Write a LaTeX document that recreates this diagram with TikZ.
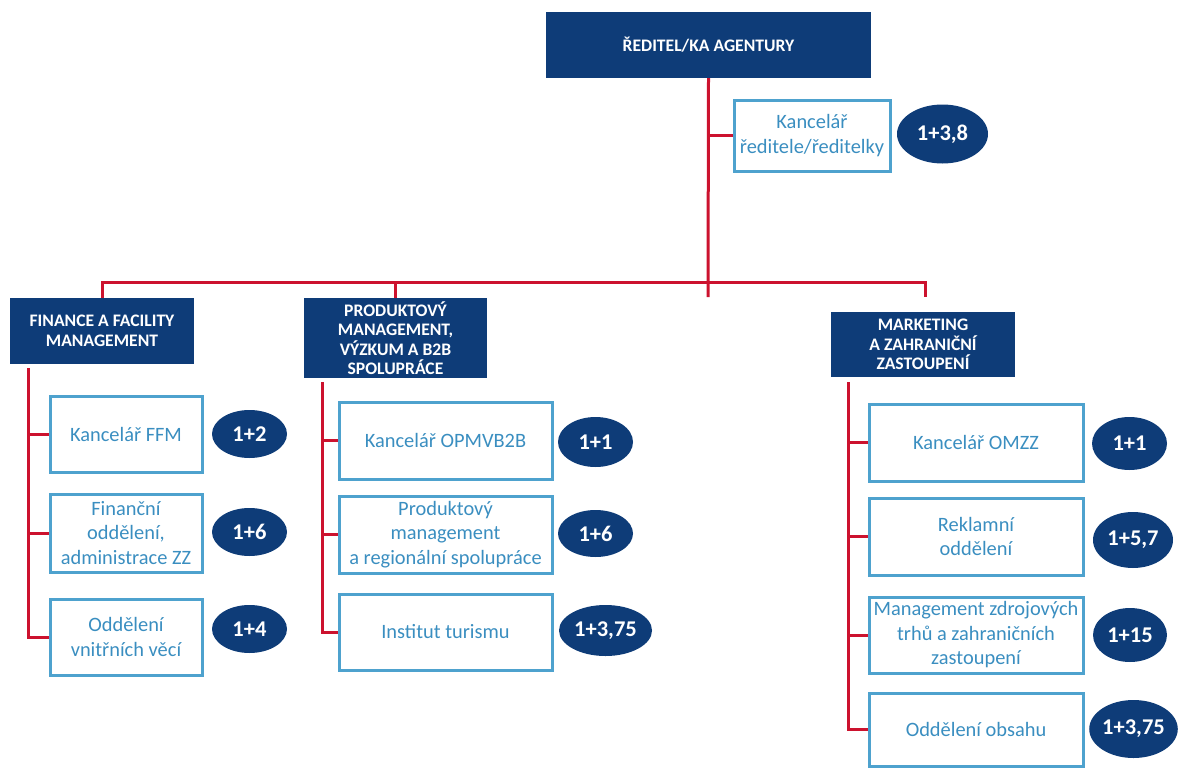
\documentclass[tikz,border=0pt]{standalone}
\usepackage{fontspec}
\setmainfont{Carlito}
\usetikzlibrary{shapes.geometric}
\definecolor{tmava}{RGB}{14,60,120}
\definecolor{svetla}{RGB}{78,162,206}
\definecolor{textmodra}{RGB}{58,142,192}
\definecolor{cervena}{RGB}{204,18,46}
\tikzset{
  hlava/.style={fill=tmava, text=white, align=center, inner sep=0pt,
    font=\bfseries\fontsize{17.6}{19.5}\selectfont},
  oddeleni/.style={draw=svetla, line width=3pt, text=textmodra, align=center,
    inner sep=0pt, font=\fontsize{20.4}{24.5}\selectfont},
  pocet/.style={ellipse, fill=tmava, text=white, inner sep=0pt,
    font=\bfseries\fontsize{22.5}{24}\selectfont},
  spoj/.style={draw=cervena, line width=3pt}
}
\begin{document}
\begin{tikzpicture}[x=1pt, y=-1pt, line join=miter]
				
				% Khung của bức tranh
				\useasboundingbox (0,0) rectangle (1183,768);
				
				% Ředitel/ka a kancelář
				\node[hlava, minimum width=325, minimum height=66] (reditel) at (708.5,45) {ŘEDITEL/KA AGENTURY};
				\node[oddeleni, minimum width=156, minimum height=71] (kr) at (812,135.5) {Kancelář\\ředitele/ředitelky};
				\node[pocet, minimum width=91, minimum height=59] (kr-n) at (942.5,134) {1+3,8};
				
				% Ba bộ phận
				\node[hlava, minimum width=184, minimum height=66] (ffm) at (102,331) {FINANCE A FACILITY\\MANAGEMENT};
				\node[hlava, minimum width=183, minimum height=80] (pmv) at (395.5,338) {PRODUKTOVÝ\\MANAGEMENT,\\VÝZKUM A B2B\\SPOLUPRÁCE};
				\node[hlava, minimum width=184, minimum height=65] (mzz) at (923,344.5) {MARKETING\\A ZAHRANIČNÍ\\ZASTOUPENÍ};
				
				% Cột bên trái
				\node[oddeleni, minimum width=152, minimum height=76] (f1) at (126,434) {Kancelář FFM};
				\node[oddeleni, minimum width=152, minimum height=78] (f2) at (126,533) {Finanční\\oddělení,\\administrace ZZ};
				\node[oddeleni, minimum width=152, minimum height=76] (f3) at (126,637) {Oddělení\\vnitřních věcí};
				\node[pocet, minimum width=75, minimum height=48] (f1-n) at (249.5,434) {1+2};
				\node[pocet, minimum width=75, minimum height=48] (f2-n) at (249.5,532) {1+6};
				\node[pocet, minimum width=75, minimum height=48] (f3-n) at (249.5,629) {1+4};
				
				% Cột giữa
				\node[oddeleni, minimum width=213, minimum height=77] (p1) at (445.5,440.5) {Kancelář OPMVB2B};
				\node[oddeleni, minimum width=213, minimum height=77] (p2) at (445.5,534.5) {Produktový\\management\\a regionální spolupráce};
				\node[oddeleni, minimum width=213, minimum height=76] (p3) at (445.5,632) {Institut turismu};
				\node[pocet, minimum width=75, minimum height=50] (p1-n) at (595.5,442) {1+1};
				\node[pocet, minimum width=75, minimum height=47] (p2-n) at (595.5,533.5) {1+6};
				\node[pocet, minimum width=93, minimum height=51] (p3-n) at (605.5,630.5) {1+3,75};
				
				% Cột bên phải
				\node[oddeleni, minimum width=214, minimum height=77] (m1) at (976,442.5) {Kancelář OMZZ};
				\node[oddeleni, minimum width=214, minimum height=77] (m2) at (976,536.5) {Reklamní\\oddělení};
				\node[oddeleni, minimum width=214, minimum height=76] (m3) at (976,635) {Management zdrojových\\trhů a zahraničních\\zastoupení};
				\node[oddeleni, minimum width=214, minimum height=73] (m4) at (976,729.5) {Oddělení obsahu};
				\node[pocet, minimum width=75, minimum height=53] (m1-n) at (1129.5,443.5) {1+1};
				\node[pocet, minimum width=80, minimum height=56] (m2-n) at (1133,540) {1+5,7};
				\node[pocet, minimum width=74, minimum height=54] (m3-n) at (1130,635) {1+15};
				\node[pocet, minimum width=83, minimum height=58] (m4-n) at (1133.5,729) {1+3,75};
				
				% Đường nối màu đỏ
				\coordinate (uzel) at (708,282);
				\coordinate (konec) at (708,297);
				\coordinate (pravy) at (925,297);
				\coordinate (fL) at (28,368);
				\coordinate (pL) at (322,382);
				\coordinate (mL) at (848,382);
				\draw[spoj] (reditel.south) -- (konec);
				\draw[spoj] (reditel.south |- kr.west) -- (kr.west);
				\draw[spoj] (ffm.north) |- (uzel) -| (pravy);
				\draw[spoj] (pmv.north) -- (pmv.north |- uzel);
				
				\draw[spoj] (fL) |- (f3.west);
				\draw[spoj] (fL |- f1.west) -- (f1.west);
				\draw[spoj] (fL |- f2.west) -- (f2.west);
				
				\draw[spoj] (pL) |- (p3.west);
				\draw[spoj] (pL |- p1.west) -- (p1.west);
				\draw[spoj] (pL |- p2.west) -- (p2.west);
				
				\draw[spoj] (mL) |- (m4.west);
				\draw[spoj] (mL |- m1.west) -- (m1.west);
				\draw[spoj] (mL |- m2.west) -- (m2.west);
				\draw[spoj] (mL |- m3.west) -- (m3.west);
				
			\end{tikzpicture}
\end{document}
